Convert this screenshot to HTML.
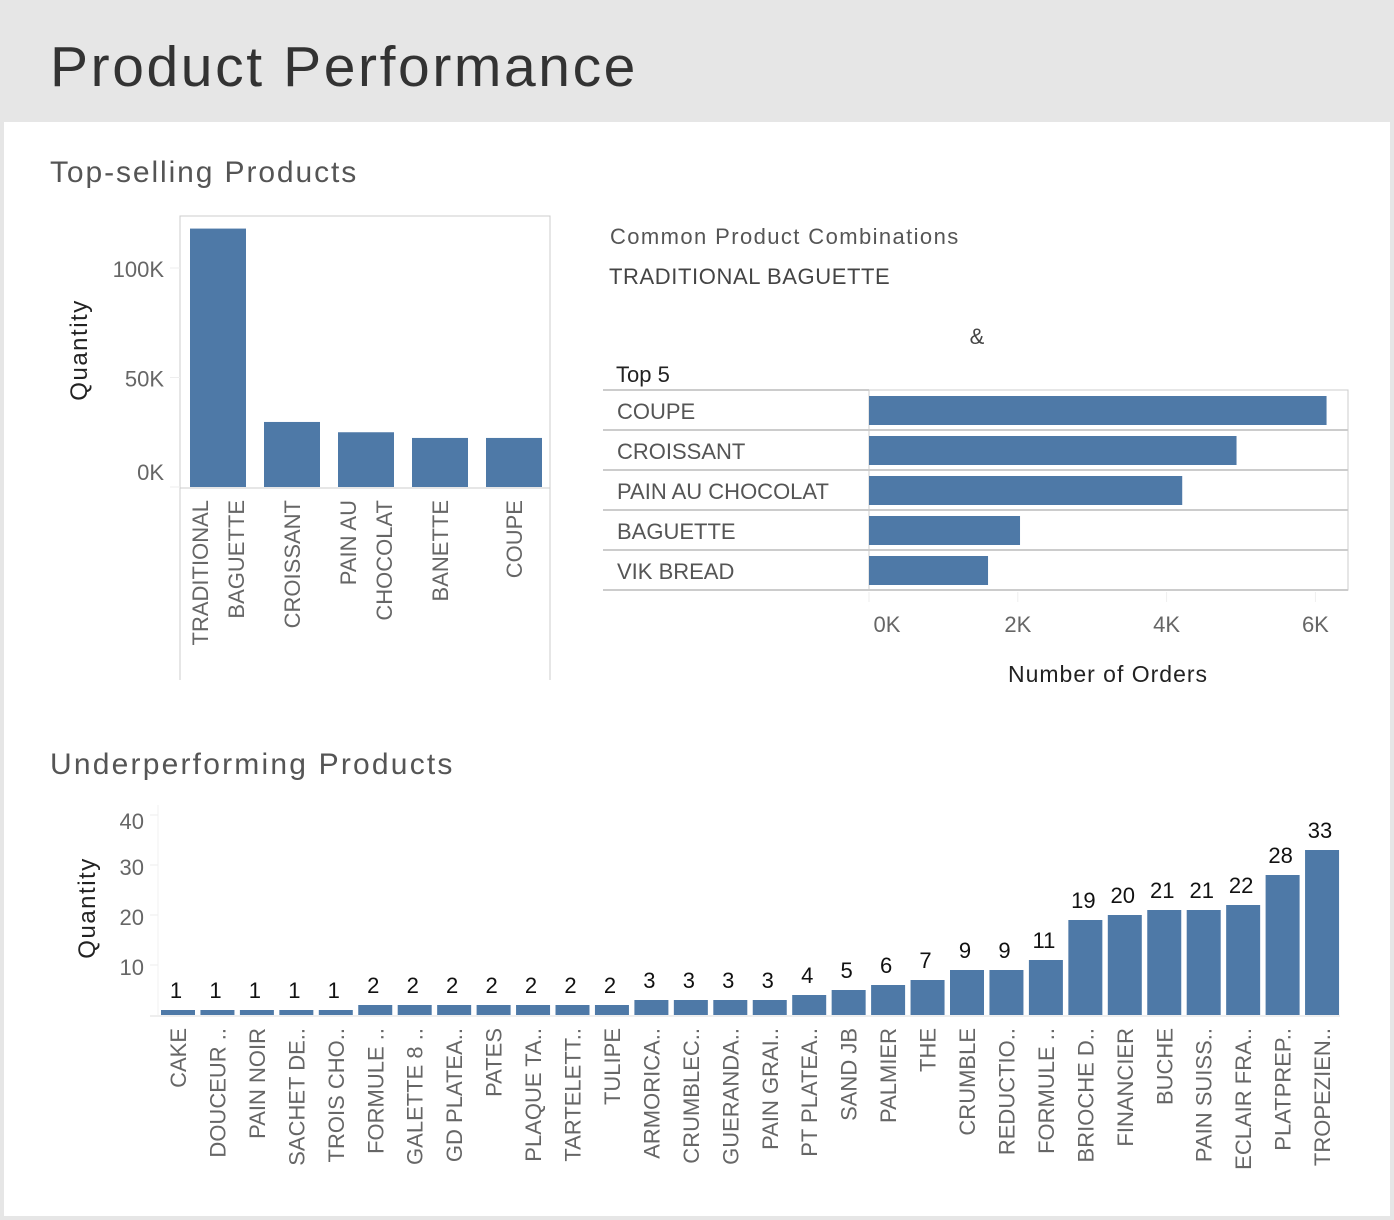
<!DOCTYPE html>
<html><head><meta charset="utf-8"><style>
body{margin:0;width:1394px;height:1220px;background:#e6e6e6;font-family:"Liberation Sans","DejaVu Sans",sans-serif;overflow:hidden}
#panel{position:absolute;left:4px;top:122px;width:1386px;height:1094px;background:#fff}
h1{position:absolute;left:50px;top:34px;margin:0;font-size:57px;font-weight:normal;color:#333;letter-spacing:2.6px}
svg{position:absolute;left:0;top:0}
</style></head><body>
<h1>Product Performance</h1>
<div id="panel"></div>
<svg id="s" width="1394" height="1220">
<text x="50" y="182" font-size="30" fill="#555" letter-spacing="1.9">Top-selling Products</text>
<text x="50" y="774" font-size="30" fill="#555" letter-spacing="2.2">Underperforming Products</text>
<text x="610" y="244" font-size="22" fill="#555" letter-spacing="1.4">Common Product Combinations</text>
<text x="609" y="284" font-size="22" fill="#444" letter-spacing="0.6">TRADITIONAL BAGUETTE</text>
<text x="977" y="344" font-size="22" fill="#444" text-anchor="middle">&amp;</text>
<text x="616" y="382" font-size="22" fill="#222">Top 5</text>
<text x="1108" y="682" font-size="23" fill="#222" text-anchor="middle" letter-spacing="1">Number of Orders</text>
<text transform="translate(87,350) rotate(-90)" font-size="24" fill="#222" text-anchor="middle" letter-spacing="1.5">Quantity</text>
<text transform="translate(95,908) rotate(-90)" font-size="24" fill="#222" text-anchor="middle" letter-spacing="1.5">Quantity</text>
<rect x="180" y="216" width="370" height="272" fill="none" stroke="#ccc"/>
<line x1="180" y1="488" x2="180" y2="680" stroke="#ccc"/>
<line x1="550" y1="488" x2="550" y2="680" stroke="#ccc"/>
<g id="g1"></g><g id="g2"></g><g id="g3"></g>
</svg>
<script>
const topCats=[["TRADITIONAL","BAGUETTE"],["CROISSANT"],["PAIN AU","CHOCOLAT"],["BANETTE"],["COUPE"]];
const topVals=[118,29.7,25,22.4,22.4];
const topTicks=[0,50,100];
const comboCats=["COUPE","CROISSANT","PAIN AU CHOCOLAT","BAGUETTE","VIK BREAD"];
const comboVals=[6.15,4.94,4.21,2.03,1.6];
const comboTicks=[0,2,4,6];
const lowCats=["CAKE","DOUCEUR ..","PAIN NOIR","SACHET DE..","TROIS CHO..","FORMULE ..","GALETTE 8 ..","GD PLATEA..","PATES","PLAQUE TA..","TARTELETT..","TULIPE","ARMORICA..","CRUMBLEC..","GUERANDA..","PAIN GRAI..","PT PLATEA..","SAND JB","PALMIER","THE","CRUMBLE","REDUCTIO..","FORMULE ..","BRIOCHE D..","FINANCIER","BUCHE","PAIN SUISS..","ECLAIR FRA..","PLATPREP..","TROPEZIEN.."];
const lowVals=[1,1,1,1,1,2,2,2,2,2,2,2,3,3,3,3,4,5,6,7,9,9,11,19,20,21,21,22,28,33];
const lowTicks=[10,20,30,40];
const NS="http://www.w3.org/2000/svg";
function mk(p,t,a,txt){const e=document.createElementNS(NS,t);for(const k in a)e.setAttribute(k,a[k]);if(txt!=null)e.textContent=txt;p.appendChild(e);return e;}
const BLUE="#4e79a7";
// chart 1
const g1=document.getElementById('g1');
const y1=v=>487-v*2.19;
topTicks.forEach(t=>{const e=mk(g1,'text',{x:164,y:Math.min(y1(t)+9,480),'font-size':22,fill:'#666','text-anchor':'end'},t+'K');


mk(g1,'line',{x1:170,x2:180,y1:y1(t),y2:y1(t),stroke:'#eee'});});
topCats.forEach((c,i)=>{const cx=218+i*74;
const r=mk(g1,'rect',{x:cx-28,y:y1(topVals[i]),width:56,height:487-y1(topVals[i]),fill:BLUE});


c.forEach((ln,j)=>{const x=cx+(j-(c.length-1)/2)*36+8;
const t=mk(g1,'text',{transform:`translate(${x},500) rotate(-90)`,'font-size':22,fill:'#666','text-anchor':'end'},ln);

});});
// chart 2
const g2=document.getElementById('g2');
const x2=v=>869+v*74.4;
mk(g2,'rect',{x:869,y:390,width:479,height:200,fill:'none',stroke:'#ccc'});
comboCats.forEach((c,i)=>{const y=390+i*40;
mk(g2,'line',{x1:603,x2:1348,y1:y+40,y2:y+40,stroke:'#ccc','stroke-width':2});
if(i==0)mk(g2,'line',{x1:603,x2:869,y1:y,y2:y,stroke:'#ccc','stroke-width':2});
const t=mk(g2,'text',{x:617,y:y+29,'font-size':22,fill:'#555'},c);


const r=mk(g2,'rect',{x:869,y:y+6,width:x2(comboVals[i])-869,height:29,fill:BLUE});

});
comboTicks.forEach(t=>{mk(g2,'line',{x1:x2(t),x2:x2(t),y1:592,y2:602,stroke:'#eee'});
const e=mk(g2,'text',{x:Math.max(x2(t),887),y:632,'font-size':22,fill:'#666','text-anchor':'middle'},t+'K');

});
// chart 3
const g3=document.getElementById('g3');
const y3=v=>1015-v*5;
mk(g3,'line',{x1:158,x2:158,y1:805,y2:1015,stroke:'#f0f0f0'});
mk(g3,'line',{x1:150,x2:1340,y1:1016,y2:1016,stroke:'#eee','stroke-width':2});
lowTicks.forEach(t=>{const e=mk(g3,'text',{x:144,y:y3(t)+(t==40?14:10),'font-size':22,fill:'#666','text-anchor':'end'},t);


mk(g3,'line',{x1:150,x2:158,y1:y3(t),y2:y3(t),stroke:'#eee'});});
lowCats.forEach((c,i)=>{const cx=178+i*39.45;
const v=lowVals[i];const top=Math.min(y3(v),1010);
const r=mk(g3,'rect',{x:cx-17,y:top,width:34,height:1015-top,fill:BLUE});


const l=mk(g3,'text',{x:cx-2,y:top-12,'font-size':22,fill:'#111','text-anchor':'middle'},v);


const t=mk(g3,'text',{transform:`translate(${cx+8},1028) rotate(-90)`,'font-size':22,fill:'#666','text-anchor':'end'},c);

});
</script>
</body></html>
